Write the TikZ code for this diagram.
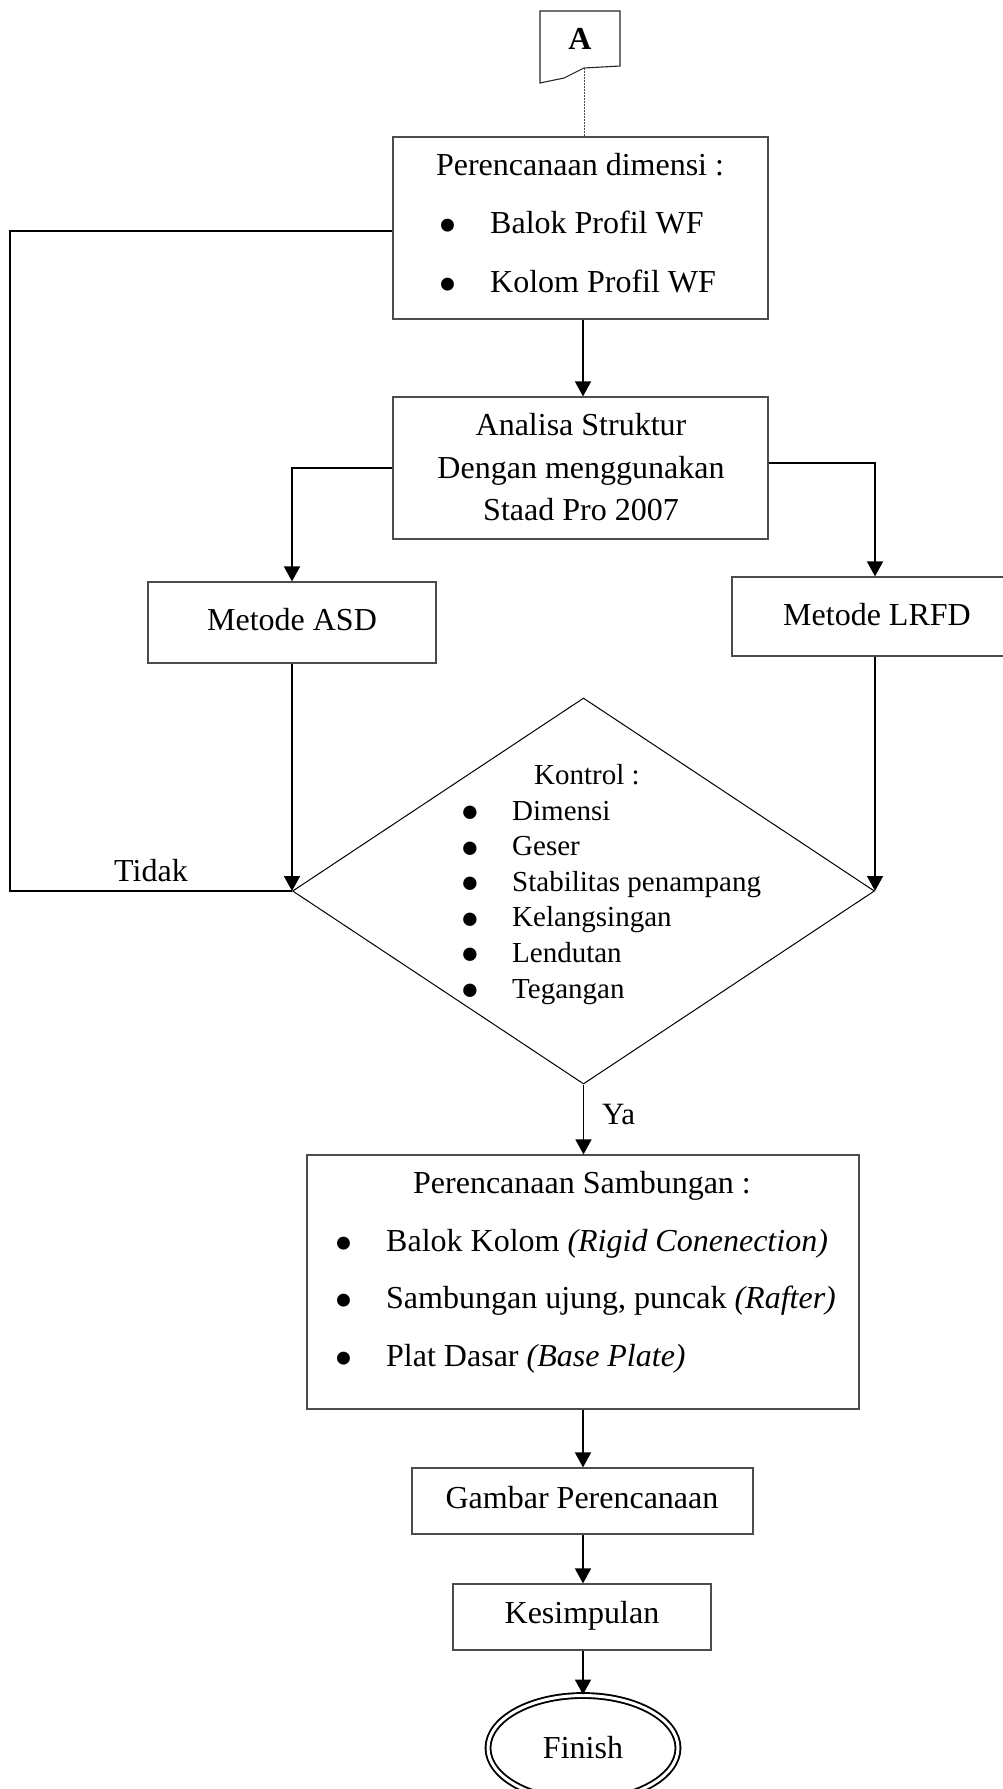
\documentclass[tikz,border=0pt]{standalone}
\usepackage{fontspec}
\setmainfont{Liberation Serif}
\usetikzlibrary{arrows.meta,shapes.geometric}
\newcommand\fzbig{\fontsize{32pt}{38pt}\selectfont}
\newcommand\fzmid{\fontsize{29pt}{35pt}\selectfont}
\newcommand\bul{\raisebox{-10pt}{\fontsize{54pt}{54pt}\selectfont\textbullet}}
\newcommand\bulsm{\raisebox{-1.5pt}{\fontsize{31pt}{31pt}\selectfont ●}}
\begin{document}
\begin{tikzpicture}[x=1pt,y=-1pt,
  box/.style={draw=black!70,line width=1.2pt,rectangle,inner sep=0pt},
  conn/.style={line width=1.6pt,-{Triangle[length=15pt,width=16pt]}},
  plain/.style={line width=1.6pt},
  txt/.style={inner sep=0pt,font=\fzbig},
  tsm/.style={inner sep=0pt,font=\fzmid}]
\useasboundingbox (0,0) rectangle (1003,1789);
% off-page connector A
\coordinate (a1) at (540,11);
\coordinate (a2) at (620,11);
\coordinate (a3) at (620,66);
\coordinate (a4) at (584,68);
\coordinate (a5) at (564,78);
\coordinate (a6) at (540,83);
\draw[line width=1.1pt,black!85] (a1) -- (a2) -- (a3) -- (a4) -- (a5) -- (a6) -- cycle;
\node[txt,anchor=base,font=\fzbig\bfseries] (tA) at (580,49) {A};
\coordinate (axis) at (583,0);
% box 1
\node[box,minimum width=375pt,minimum height=182pt] (b1) at (580.5,228) {};
\node[txt,anchor=base] (t11) at (580,175) {Perencanaan dimensi :};
\node[txt,anchor=base] (u12) at (448,233) {\bul};
\node[txt,anchor=base west] (t12) at (490,233) {Balok Profil WF};
\node[txt,anchor=base] (u13) at (448,292) {\bul};
\node[txt,anchor=base west] (t13) at (490,292) {Kolom Profil WF};
\draw[black!70,line width=0.7pt,dash pattern=on 1.5pt off 1.5pt] (a4) -- (a4 |- b1.north);
% box 2
\node[box,minimum width=375pt,minimum height=142pt] (b2) at (580.5,468) {};
\node[txt,anchor=base] (t21) at (581,435) {Analisa Struktur};
\node[txt,anchor=base] (t22) at (581,478) {Dengan menggunakan};
\node[txt,anchor=base] (t23) at (581,520) {Staad Pro 2007};
% methods
\node[box,minimum width=288pt,minimum height=81pt] (asd) at (292,622.5) {};
\node[txt,anchor=base] (tasd) at (292,630) {Metode ASD};
\node[box,minimum width=286pt,minimum height=79pt] (lrfd) at (875,616.5) {};
\node[txt,anchor=base] (tlrfd) at (877,625) {Metode LRFD};
% diamond
\node[draw,line width=1pt,diamond,inner sep=0pt,minimum width=582pt,minimum height=386pt,aspect=1.508] (dia) at (583.5,891) {};
\node[tsm,anchor=base west] (tk) at (534,784) {Kontrol :};
\foreach \y/\t [count=\i] in {820/Dimensi,855.6/Geser,891.2/Stabilitas penampang,926.8/Kelangsingan,962.4/Lendutan,998/Tegangan}{
  \node[tsm,anchor=base] (ku\i) at (470,\y) {\bulsm};
  \node[tsm,anchor=base west] (kt\i) at (512,\y) {\t};
}
% sambungan
\node[box,minimum width=552pt,minimum height=254pt] (samb) at (583,1282) {};
\node[txt,anchor=base] (ts0) at (582,1193) {Perencanaan Sambungan :};
\node[txt,anchor=base] (us1) at (344,1251) {\bul};
\node[txt,anchor=base west] (ts1) at (386,1251) {Balok Kolom \textit{(Rigid Conenection)}};
\node[txt,anchor=base] (us2) at (344,1308) {\bul};
\node[txt,anchor=base west] (ts2) at (386,1308) {Sambungan ujung, puncak \textit{(Rafter)}};
\node[txt,anchor=base] (us3) at (344,1366) {\bul};
\node[txt,anchor=base west] (ts3) at (386,1366) {Plat Dasar \textit{(Base Plate)}};
% lower boxes
\node[box,minimum width=341pt,minimum height=66pt] (gam) at (582.5,1501) {};
\node[txt,anchor=base] (tgam) at (582,1508) {Gambar Perencanaan};
\node[box,minimum width=258pt,minimum height=66pt] (kes) at (582,1617) {};
\node[txt,anchor=base] (tkes) at (582,1623) {Kesimpulan};
\node[draw,ellipse,line width=1.9pt,double,double distance=3pt,inner sep=0pt,minimum width=190pt,minimum height=105pt,font=\fzbig] (fin) at (583,1748) {Finish};
% labels
\node[txt,anchor=base] (tidak) at (151,881) {Tidak};
\node[txt,anchor=base west,font=\fontsize{31pt}{36pt}\selectfont] (ya) at (602,1124) {Ya};
% connectors
\coordinate (lp) at (10,231);
\draw[conn] (b1.south -| axis) -- (b2.north -| axis);
\draw[conn] (b2.west) -| (asd.north);
\draw[conn] ([yshift=5pt]b2.east) -| (lrfd.north);
\draw[conn] (asd.south) -- (asd.south |- dia.west);
\draw[conn] (lrfd.south) -- (lrfd.south |- dia.east);
\draw[plain] (dia.west) -- (dia.west -| lp) -- (lp) -- (lp -| b1.west);
\draw[conn] (dia.south) -- (samb.north -| dia.south);
\draw[conn] (samb.south -| axis) -- (gam.north -| axis);
\draw[conn] (gam.south -| axis) -- (kes.north -| axis);
\draw[conn] (kes.south -| axis) -- (fin.north -| axis);
\end{tikzpicture}
\end{document}
